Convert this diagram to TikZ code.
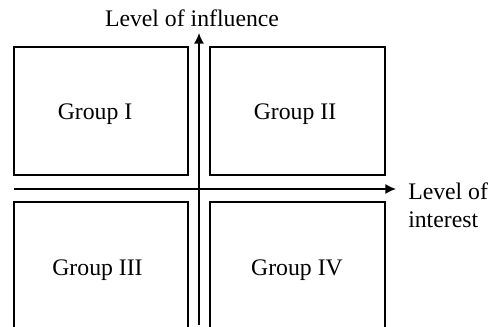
\documentclass[tikz,border=0pt]{standalone}
\usepackage{fontspec}
\setmainfont{Liberation Serif}
\usetikzlibrary{arrows.meta}
\begin{document}
\begin{tikzpicture}[x=0.75pt,y=-0.75pt,
  quad/.style={draw=black,line width=1.1pt},
  lbl/.style={font=\fontsize{17.8}{21.4}\selectfont,inner sep=0pt,anchor=base},
  axis/.style={line width=1.1pt,-{Latex[length=8pt,width=7.5pt]}}]
\clip (0,0) rectangle (496,327);
% boxes
\draw[quad] (14,47) rectangle (188,175);
\draw[quad] (210,47) rectangle (385,175);
\draw[quad] (14,202) rectangle (188,345);
\draw[quad] (210,202) rectangle (385,345);
% labels
\node[lbl] (g1) at (95,120) {Group I};
\node[lbl] (g2) at (295,120) {Group II};
\node[lbl] (g3) at (97.5,276) {Group III};
\node[lbl] (g4) at (297,276) {Group IV};
% axes
\coordinate (vb) at (199,325);
\coordinate (vt) at (199,33);
\coordinate (hl) at (14,189);
\coordinate (hr) at (396,189);
\draw[axis] (vb) -- (vt);
\draw[axis] (hl) -- (hr);
\node[lbl] (yl) at (192,27) {Level of influence};
\node[lbl,anchor=base west,align=left] (xl) at (408,228) {Level of\\interest};
\end{tikzpicture}
\end{document}
